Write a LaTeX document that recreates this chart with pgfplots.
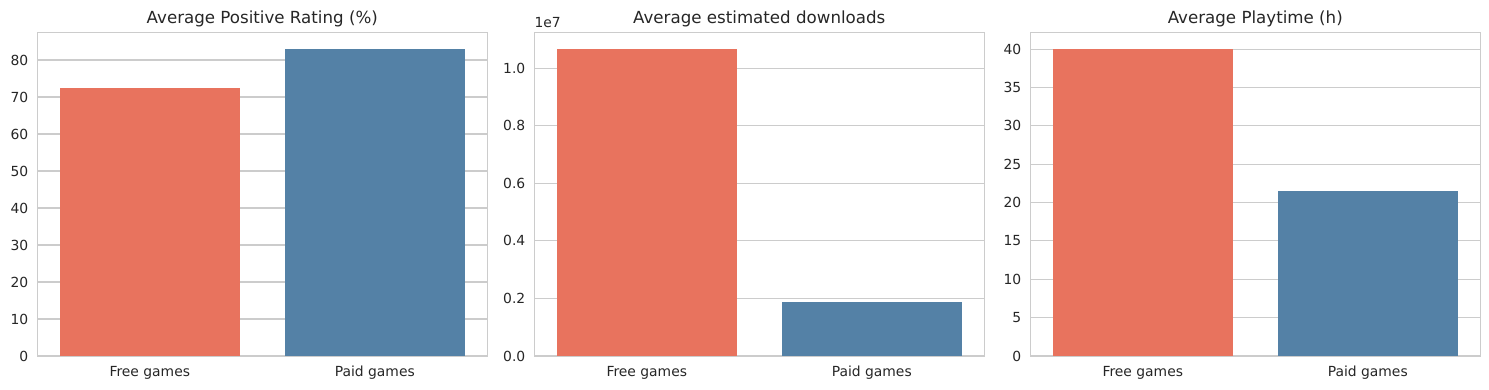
\documentclass[border=0pt]{standalone}
\usepackage{fontspec}
\setmainfont{DejaVu Sans}
\usepackage{pgfplots}
\pgfplotsset{compat=1.18}
\definecolor{freec}{HTML}{E8735E}
\definecolor{paidc}{HTML}{5481A6}
\definecolor{gridc}{HTML}{CCCCCC}
\definecolor{txt}{HTML}{262626}
\pgfplotsset{
  every axis title/.style={at={(0.5,1)}, anchor=base, yshift=6pt, inner sep=0pt, font=\fontsize{12}{14}\selectfont, text=txt},
  sbar/.style={
    scale only axis, width=324pt, height=233.1pt,
    xmin=-0.5, xmax=1.5, ymin=0,
    ybar, bar width=0.8, bar shift=0pt,
    xtick={0,1}, xticklabels={Free games,Paid games},
    major tick length=0pt,
    axis line style={gridc, line width=1pt},
    ymajorgrids, grid style={gridc, line width=0.8pt},
    tick label style={font=\fontsize{10}{12}\selectfont, text=txt},
    xticklabel style={anchor=north, inner sep=0pt, yshift=-7.2pt},
    yticklabel style={anchor=east, inner sep=0pt, xshift=-6.3pt},
    /pgf/number format/assume math mode=true,
    scaled y ticks=false,
    clip=false,
  }
}
\begin{document}
\begin{tikzpicture}
\useasboundingbox (-26.86pt,-24.48pt) rectangle (1045.26pt,256.32pt);
\begin{axis}[sbar, at={(0pt,0pt)}, ymax=87.5, ytick={0,10,...,80},
  title={Average Positive Rating (\%)}]
\addplot[fill=freec, draw=none] coordinates {(0,72.4)};
\addplot[fill=paidc, draw=none] coordinates {(1,83.0)};
\end{axis}
\begin{axis}[sbar, at={(357.84pt,0pt)}, ymax=11252000,
  ytick={0,2000000,4000000,6000000,8000000,10000000},
  yticklabels={0.0,0.2,0.4,0.6,0.8,1.0},
  title={Average estimated downloads}]
\addplot[fill=freec, draw=none] coordinates {(0,10660000)};
\addplot[fill=paidc, draw=none] coordinates {(1,1866000)};
\node[anchor=base west, inner sep=0pt, font=\fontsize{10}{12}\selectfont, text=txt] at (rel axis cs:0,1) [yshift=3.6pt] {1e7};
\end{axis}
\begin{axis}[sbar, at={(714.96pt,0pt)}, ymax=42.2, ytick={0,5,...,40},
  title={Average Playtime (h)}]
\addplot[fill=freec, draw=none] coordinates {(0,40.05)};
\addplot[fill=paidc, draw=none] coordinates {(1,21.48)};
\end{axis}
\end{tikzpicture}
\end{document}
